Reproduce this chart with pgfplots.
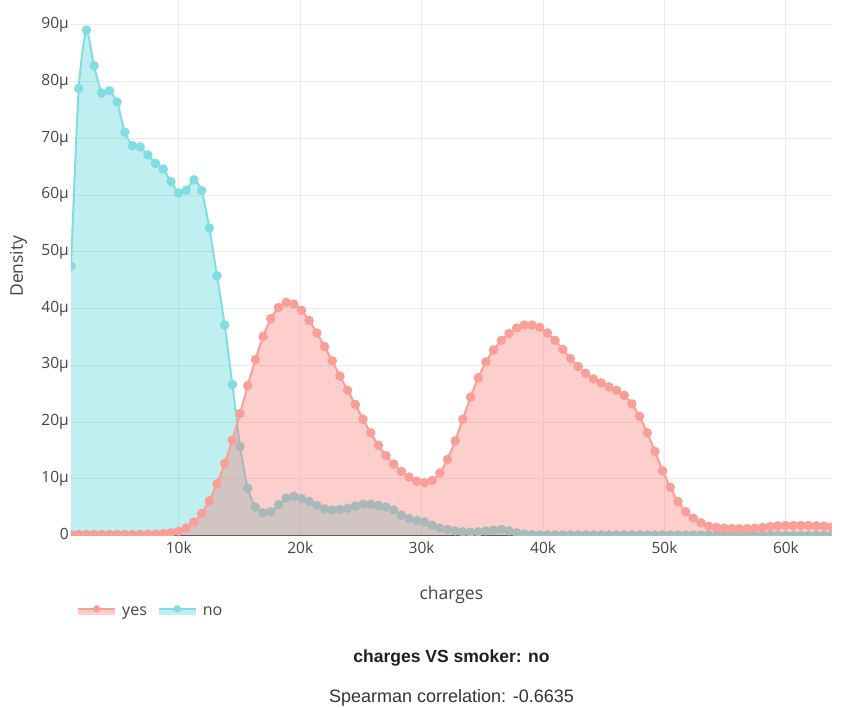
\documentclass[border=0pt]{standalone}
\usepackage{fontspec}
\setmainfont{Open Sans}
\newfontfamily\robo{Liberation Sans}
\usepackage{pgfplots}
\pgfplotsset{compat=1.18}
\usepackage{pgfplotstable}

\definecolor{yesline}{RGB}{250,158,152}
\definecolor{yesbase}{RGB}{248,118,109}
\definecolor{noline}{RGB}{128,222,226}
\definecolor{nobase}{RGB}{0,191,196}
\definecolor{tickc}{RGB}{68,68,68}
\definecolor{gridc}{RGB}{235,235,235}

% x = charges, yes / no = density in units of 1e-6
\pgfplotstableread{
x yes no
1122 0.18 47.5
1755 0.18 78.8
2387 0.18 89.1
3020 0.18 82.8
3653 0.18 78.0
4286 0.18 78.4
4919 0.18 76.4
5552 0.18 71.1
6184 0.18 68.7
6817 0.19 68.5
7450 0.20 67.1
8083 0.24 65.6
8716 0.32 64.6
9348 0.47 62.4
9981 0.76 60.4
10614 1.35 60.9
11247 2.35 62.7
11880 3.87 60.8
12512 6.1 54.2
13145 9.1 45.8
13778 12.7 37.1
14411 16.8 26.6
15044 21.5 15.7
15676 26.4 8.3
16309 31.0 5.0
16942 35.1 4.0
17575 38.2 4.2
18208 40.2 5.4
18841 41.1 6.6
19473 40.8 6.9
20106 39.7 6.5
20739 37.9 6.0
21372 35.7 5.3
22005 33.3 4.7
22637 30.8 4.5
23270 28.1 4.6
23903 25.6 4.8
24536 23.1 5.2
25169 20.5 5.5
25801 18.1 5.5
26434 15.9 5.3
27067 14.1 5.0
27700 12.6 4.5
28333 11.3 3.6
28965 10.3 3.0
29598 9.56 2.6
30231 9.3 2.4
30864 9.7 1.8
31497 11.0 1.3
32130 13.4 1.06
32762 16.7 0.82
33395 20.5 0.65
34028 24.4 0.59
34661 27.8 0.65
35294 30.6 0.82
35926 32.7 0.94
36559 34.4 1.06
37192 35.6 0.82
37825 36.6 0.47
38458 37.1 0.25
39090 37.1 0.15
39723 36.7 0.12
40356 35.7 0.10
40989 34.4 0.10
41622 32.8 0.10
42254 31.2 0.10
42887 29.8 0.10
43520 28.6 0.10
44153 27.6 0.10
44786 26.9 0.10
45419 26.2 0.10
46051 25.6 0.10
46684 24.7 0.10
47317 23.2 0.10
47950 21.0 0.10
48583 18.1 0.09
49215 14.8 0.09
49848 11.4 0.09
50481 8.5 0.08
51114 6.0 0.08
51747 4.2 0.08
52379 3.05 0.08
53012 2.23 0.07
53645 1.64 0.07
54278 1.41 0.07
54911 1.29 0.07
55543 1.23 0.07
56176 1.17 0.06
56809 1.23 0.06
57442 1.29 0.06
58075 1.41 0.06
58707 1.58 0.06
59340 1.70 0.06
59973 1.76 0.05
60606 1.76 0.05
61239 1.76 0.05
61872 1.76 0.05
62504 1.70 0.05
63137 1.64 0.05
63770 1.52 0.05
}\dens

\begin{document}
\begin{tikzpicture}[x=1pt,y=1pt]
\begin{axis}[
  at={(71pt,171.5pt)}, anchor=south west,
  scale only axis, width=760.7pt, height=535.5pt,
  xmin=1121.87, xmax=63770.43, ymin=0, ymax=94.4,
  axis lines*=left,
  x axis line style={draw=tickc, line width=1pt},
  y axis line style={draw=none},
  scaled x ticks=false, scaled y ticks=false,
  xtick={10000,20000,30000,40000,50000,60000},
  xticklabels={10k,20k,30k,40k,50k,60k},
  ytick={0,10,20,30,40,50,60,70,80,90},
  yticklabels={0,10μ,20μ,30μ,40μ,50μ,60μ,70μ,80μ,90μ},
  major tick length=0pt,
  grid=major,
  major grid style={draw=gridc, line width=1pt},
  tick label style={font=\fontsize{15.5}{18}\selectfont, text=tickc},
  xticklabel style={yshift=-2.7pt},
  yticklabel style={text height=0.72em, text depth=0pt, inner xsep=2pt},
  xlabel={charges},
  ylabel={Density},
  label style={font=\fontsize{17.5}{20}\selectfont, text=tickc},
  xlabel style={at={(axis description cs:0.5,-0.111)}, anchor=center},
  ylabel style={at={(axis description cs:-0.069,0.503)}, anchor=center},
  clip marker paths=true,
  legend columns=2,
  reverse legend,
  legend style={at={(axis description cs:0.0079,-0.1426)}, anchor=west,
    draw=none, fill=none, inner sep=0pt,
    font=\fontsize{16}{19}\selectfont, text=tickc,
    /tikz/every odd column/.append style={column sep=4pt},
    /tikz/every even column/.append style={column sep=9pt}},
  legend cell align=left,
]
% no
\addplot[draw=none, fill=nobase, fill opacity=0.25, forget plot] table[x=x,y=no]{\dens} \closedcycle;
\addplot[noline, line width=2pt, smooth, tension=0.35, mark=*, mark size=3.7pt,
  mark options={draw=none, fill=noline},
  legend image code/.code={
    \path[draw=none, fill=nobase, fill opacity=0.25] (0pt,-3pt) rectangle (37pt,3pt);
    \path[draw=noline, line width=2pt] (0pt,3pt) -- (37pt,3pt);
    \path[draw=none, fill=noline] (18.5pt,3pt) circle (3.7pt);
  }] table[x=x,y=no]{\dens};
\addlegendentry{no}

% yes
\addplot[draw=none, fill=yesbase, fill opacity=0.35, forget plot] table[x=x,y=yes]{\dens} \closedcycle;
\addplot[yesline, line width=2pt, smooth, tension=0.35, mark=*, mark size=3.7pt,
  mark options={draw=none, fill=yesline},
  legend image code/.code={
    \path[draw=none, fill=yesbase, fill opacity=0.35] (0pt,-3pt) rectangle (37pt,3pt);
    \path[draw=yesline, line width=2pt] (0pt,3pt) -- (37pt,3pt);
    \path[draw=none, fill=yesline] (18.5pt,3pt) circle (3.7pt);
  }] table[x=x,y=yes]{\dens};
\addlegendentry{yes}
\end{axis}
\node[font=\robo\bfseries\fontsize{17.5}{20}\selectfont, text=black!88, anchor=base] at (451.5,44.3) {charges VS smoker: no};
\node[font=\robo\fontsize{18}{21}\selectfont, text=black!80, anchor=base] at (451.5,4.3) {Spearman correlation: -0.6635};
\pgfresetboundingbox
\useasboundingbox (0,0) rectangle (866,707);
\end{tikzpicture}
\end{document}
